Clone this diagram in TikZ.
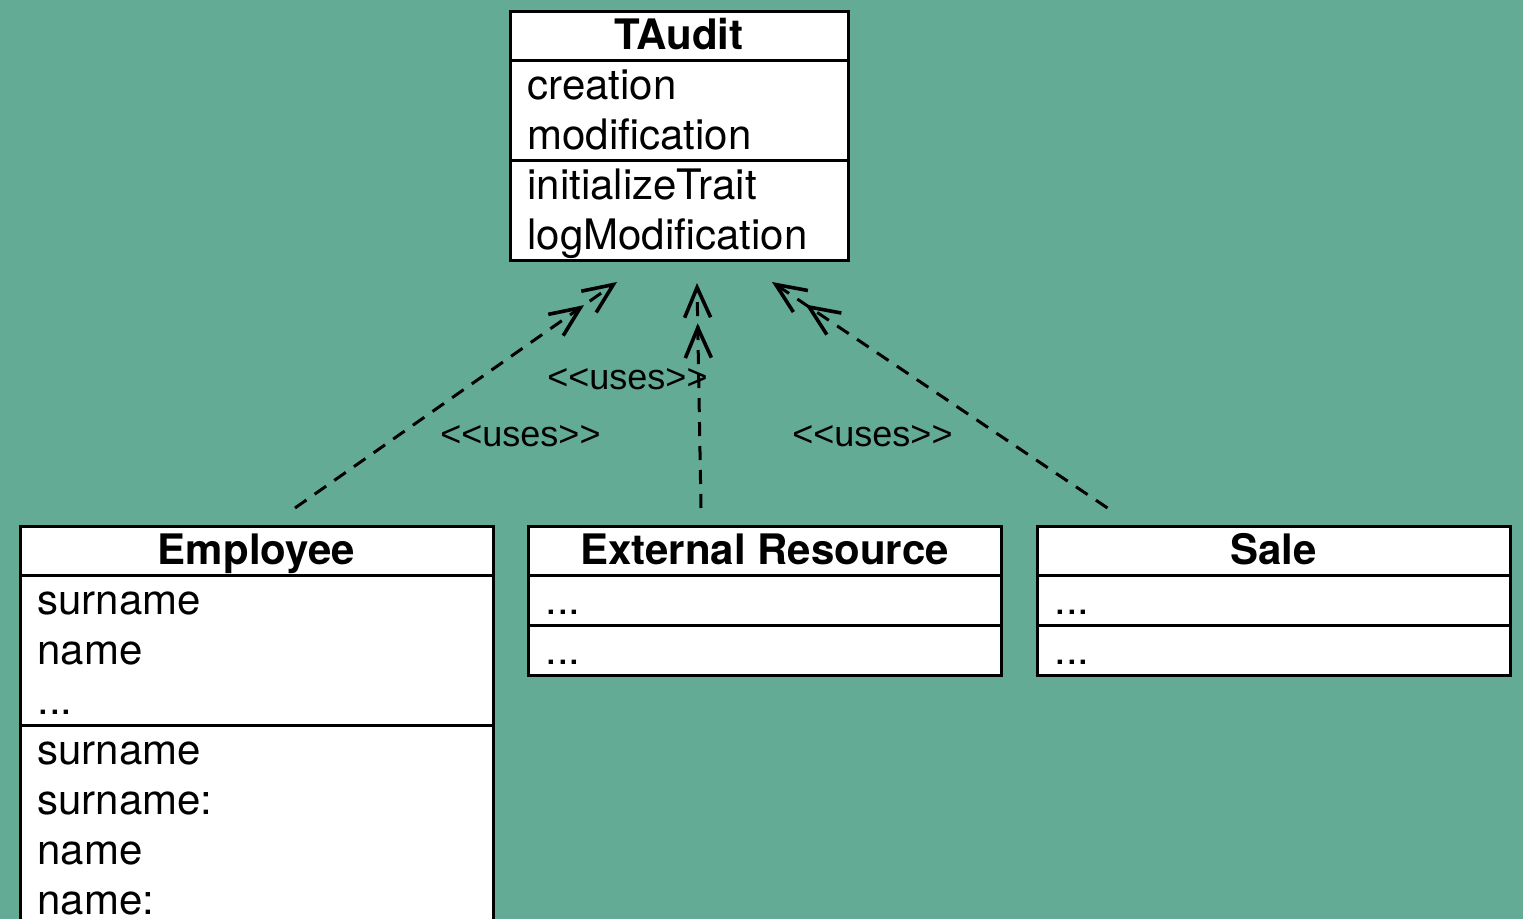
\documentclass[tikz,border=0pt]{standalone}
\usepackage{fontspec}
\setmainfont{TeX Gyre Heros}[Ligatures=TeXOff]
\newfontfamily\labelfont{Liberation Sans}[Ligatures=TeXOff]
\usetikzlibrary{arrows.meta, positioning}
\definecolor{board}{RGB}{100,171,149}
\tikzset{
    classbox/.style = {
      draw=black, fill=white, line width=1.5pt, inner sep=0, outer sep=0,
    },
    classhead/.style = {
      classbox, anchor=north west, font=\fontsize{21}{25}\selectfont\bfseries,
      text height=19pt, text depth=5.5pt,
    },
    classpart/.style = {classbox},
    classrow/.style = {
      anchor=north west, inner sep=0, font=\fontsize{21}{25}\selectfont,
      text height=19pt, text depth=6pt,
    },
    uses/.style = {
      line width=1.5pt, dash pattern=on 7pt off 5pt,
      arrows={-{Straight Barb[length=15pt, width=13pt, line width=1.8pt, sep=2pt]
                Straight Barb[length=15pt, width=13pt, line width=1.8pt]}},
    },
    uses label/.style = {anchor=base west, inner sep=0, font=\labelfont\fontsize{18}{20}\selectfont},
}
\newcommand{\umlmore}{...}
\newcommand{\umlclass}[8]{%
  %% Draw a class box:
  %% Arguments:
  %%    1. Name prefix
  %%    2. Top left corner
  %%    3. Width
  %%    4. Class name
  %%    5./6. Number of attribute rows, attribute rows
  %%    7./8. Number of operation rows, operation rows
  \node [classhead, minimum width=#3, minimum height=24.5pt] (#1) at (#2) {#4};
  \node [classpart, minimum width=#3, minimum height=#5*25pt, below=0pt of #1] (#1_attr) {};
  \node [classpart, minimum width=#3, minimum height=#7*25pt, below=0pt of #1_attr] (#1_ops) {};
  \foreach \t [count=\i] in {#6}{%
    \node [classrow] (#1_attr_\i) at ([xshift=8.5pt, yshift=25pt - \i*25pt] #1_attr.north west) {\t};
  }
  \foreach \t [count=\i] in {#8}{%
    \node [classrow] (#1_ops_\i) at ([xshift=8.5pt, yshift=25pt - \i*25pt] #1_ops.north west) {\t};
  }
}

\begin{document}
\begin{tikzpicture}[x=0.5pt, y=-0.5pt]
  %% Background board, fixes the size of the picture
  \fill [board] (0,0) rectangle (1523,919);
  \useasboundingbox (0,0) rectangle (1523,919);
  \clip (0,0) rectangle (1523,919);

  %% The trait and the three classes that use it
  \umlclass{taudit}{510,12}{169pt}{TAudit}{2}{creation, modification}{2}{initializeTrait, logModification}
  \umlclass{emp}{20,527}{236.5pt}{Employee}{3}{surname, name, \umlmore}{4}{surname, surname:, name, name:}
  \umlclass{ext}{528,527}{236.5pt}{External Resource}{1}{\umlmore}{1}{\umlmore}
  \umlclass{sale}{1037,527}{236.5pt}{Sale}{1}{\umlmore}{1}{\umlmore}

  %% End points of the dependencies
  \coordinate (emp_from) at ([xshift=19.25pt, yshift=9.5pt] emp.north);
  \coordinate (ext_from) at ([xshift=-31.75pt, yshift=9.5pt] ext.north);
  \coordinate (sale_from) at ([xshift=-83pt, yshift=9.5pt] sale.north);
  \coordinate (emp_to) at ([xshift=-31pt, yshift=-10.5pt] taudit_ops.south);
  \coordinate (ext_to) at ([xshift=9pt, yshift=-11pt] taudit_ops.south);
  \coordinate (sale_to) at ([xshift=46.5pt, yshift=-10.5pt] taudit_ops.south);

  \draw [uses] (emp_from) -- (emp_to);
  \draw [uses] (ext_from) -- (ext_to);
  \draw [uses] (sale_from) -- (sale_to);

  \node [uses label] (emp_uses) at (440,447) {<<uses>>};
  \node [uses label] (ext_uses) at (547,390) {<<uses>>};
  \node [uses label] (sale_uses) at (792,447) {<<uses>>};
\end{tikzpicture}
\end{document}
